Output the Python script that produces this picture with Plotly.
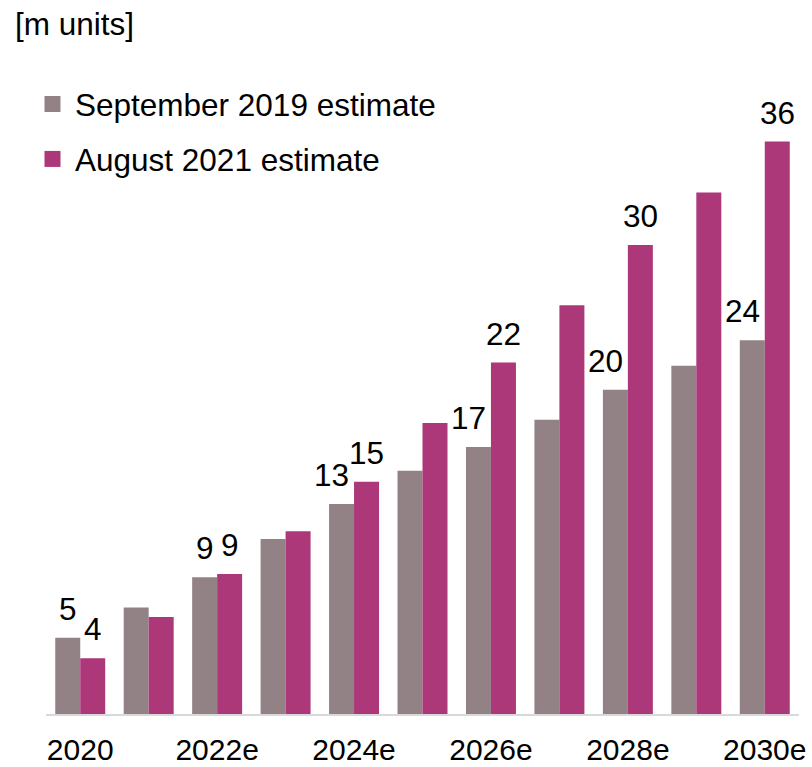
import plotly.graph_objects as go

# Unit sales forecast, millions of units
years = ["2020", "2021e", "2022e", "2023e", "2024e", "2025e",
         "2026e", "2027e", "2028e", "2029e", "2030e"]
estimate_2019 = [4.8, 6.7, 8.6, 11.0, 13.2, 15.3, 16.8, 18.5, 20.4, 21.9, 23.5]
estimate_2021 = [3.5, 6.1, 8.8, 11.5, 14.6, 18.3, 22.1, 25.7, 29.5, 32.8, 36.0]
series_names = ["September 2019 estimate", "August 2021 estimate"]
tick_years = ["2020", "2022e", "2024e", "2026e", "2028e", "2030e"]
labelled_years = ["2020", "2022e", "2024e", "2026e", "2028e", "2030e"]

GREY = "#928285"
MAGENTA = "#AC3779"
FONT = "Arial, Liberation Sans, sans-serif"
FS = 31.5
TICK_FS = 30

fig = go.Figure()
for name, vals, col in [(series_names[0], estimate_2019, GREY),
                        (series_names[1], estimate_2021, MAGENTA)]:
    fig.add_trace(go.Bar(x=years, y=vals, name=name, marker_color=col,
                         marker_line_width=0, showlegend=False))
    # legend entry with a larger square swatch
    fig.add_trace(go.Scatter(x=[None], y=[None], mode="markers", name=name,
                             marker=dict(symbol="square", size=16, color=col),
                             legendgroup=name))

# value labels above the bars (x given as category index)
bar_half = 12.5
grey_dx = {"2020": 0, "2022e": 0}
annotations = []
for yr in labelled_years:
    i = years.index(yr)
    v1, v2 = estimate_2019[i], estimate_2021[i]
    annotations.append(dict(x=i, y=v1, xref="x", yref="y", text=f"{v1:.0f}",
                            showarrow=False, xshift=-bar_half + grey_dx.get(yr, -10),
                            yshift=29, yanchor="middle",
                            font=dict(family=FONT, size=FS, color="black")))
    annotations.append(dict(x=i, y=v2, xref="x", yref="y", text=f"{v2:.0f}",
                            showarrow=False, xshift=bar_half,
                            yshift=29, yanchor="middle",
                            font=dict(family=FONT, size=FS, color="black")))

fig.update_layout(
    width=812, height=767,
    margin=dict(l=46, r=13, t=78, b=53, autoexpand=False),
    paper_bgcolor="white", plot_bgcolor="white",
    barmode="group", bargap=0.27, bargroupgap=0,
    font=dict(family=FONT, size=FS, color="black"),
    title=dict(text="[m units]", x=15 / 812, xanchor="left", xref="container",
               y=1 - 24 / 767, yanchor="middle", yref="container",
               font=dict(family=FONT, size=FS, color="black")),
    legend=dict(x=30 / 812, xanchor="left", xref="container",
                y=1 - 77 / 767, yanchor="top", yref="container",
                bgcolor="rgba(0,0,0,0)", tracegroupgap=11,
                traceorder="grouped", itemwidth=35,
                font=dict(family=FONT, size=FS, color="black")),
    annotations=annotations,
    showlegend=True,
)
fig.update_xaxes(type="category", categoryorder="array", categoryarray=years,
                 tickvals=tick_years, ticktext=tick_years, tickangle=0,
                 showline=True, linecolor="#d9d9d9", linewidth=2,
                 showgrid=False, ticks="", ticklabelstandoff=8,
                 tickfont=dict(family=FONT, size=TICK_FS, color="black"),
                 range=[-0.5, 10.5], fixedrange=True)
fig.update_yaxes(range=[0, 40], visible=False, showgrid=False, zeroline=False)

fig.write_html("out.html")
